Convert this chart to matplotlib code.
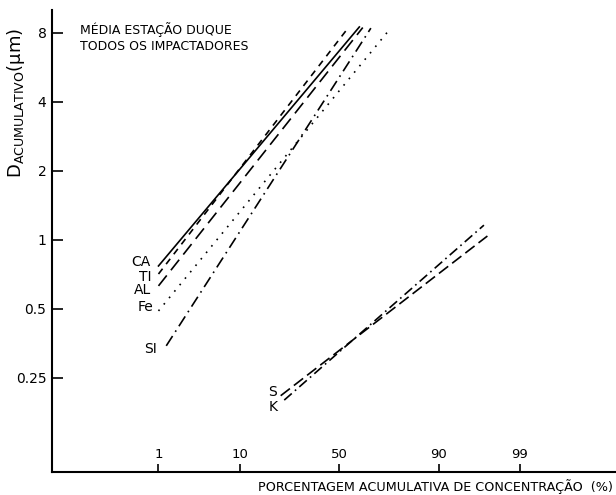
import numpy as np
import matplotlib
matplotlib.use("Agg")
import matplotlib.pyplot as plt
from matplotlib.ticker import FixedLocator, NullLocator, FixedFormatter
from statistics import NormalDist

# ---------------- data ----------------
elements = ["CA", "TI", "AL", "Fe", "SI", "S", "K"]
pct_start = [1.0, 1.0, 1.0, 1.0, 1.3, 22.6, 24.0]      # cumulative %, lower end
pct_end = [60.3, 54.8, 62.0, 74.7, 65.9, 97.2, 96.9]   # cumulative %, upper end
d_start = [0.77, 0.71, 0.63, 0.49, 0.345, 0.209, 0.200]  # diameter (um), lower end
d_end = [8.5, 8.45, 8.45, 8.4, 8.4, 1.04, 1.16]          # diameter (um), upper end

x_ticks = [1, 10, 50, 90, 99]
x_tick_labels = ["1", "10", "50", "90", "99"]
y_ticks = [0.25, 0.5, 1, 2, 4, 8]
y_tick_labels = ["0.25", "0.5", "1", "2", "4", "8"]

# ---------------- styles ----------------
styles = {
    "CA": dict(linestyle="-"),
    "TI": dict(linestyle=(0, (4, 3.5))),
    "AL": dict(linestyle=(0, (8, 4))),
    "Fe": dict(linestyle=(0, (1, 4))),
    "SI": dict(linestyle=(0, (7, 3, 1, 3))),
    "S": dict(linestyle=(0, (7, 3))),
    "K": dict(linestyle=(0, (6, 2.5, 1, 2.5))),
}
label_offsets = {  # points, relative to the lower end of each line
    "CA": (-6, 2.7), "TI": (-5, -2.2), "AL": (-5, -2.9), "Fe": (-4, 2.9),
    "SI": (-6.5, -2.2), "S": (-3, 3), "K": (-5, -5),
}

_nd = NormalDist()


def _probit(v):
    if not np.isfinite(v):
        return np.nan
    return _nd.inv_cdf(min(max(v, 1e-12), 1 - 1e-12))


def _cdf(v):
    if not np.isfinite(v):
        return np.nan
    return _nd.cdf(v)


_vprobit = np.vectorize(_probit, otypes=[float])
_vcdf = np.vectorize(_cdf, otypes=[float])


def fwd(p):
    a = np.asarray(p, dtype=float)
    return _vprobit(a / 100.0)


def inv(z):
    a = np.asarray(z, dtype=float)
    return 100.0 * _vcdf(a)


W, H = 616, 495
fig = plt.figure(figsize=(W / 100, H / 100), dpi=100)
ax = fig.add_axes([52 / W, (H - 472) / H, (W - 52) / W, (472 - 10) / H])

ax.set_xscale("function", functions=(fwd, inv))
ax.set_yscale("log", base=2)
ax.set_xlim(0.01086, 99.982)
ax.set_ylim(0.0971, 10.08)

for name, x0, x1, y0, y1 in zip(elements, pct_start, pct_end, d_start, d_end):
    ax.plot([x0, x1], [y0, y1], color="black", lw=1.2, **styles[name])
    dx, dy = label_offsets[name]
    ax.annotate(name, xy=(x0, y0), xytext=(dx, dy), textcoords="offset points",
                ha="right", va="center", fontsize=10)

for s in ["top", "right"]:
    ax.spines[s].set_visible(False)
for s in ["left", "bottom"]:
    ax.spines[s].set_linewidth(1.5)

ax.xaxis.set_major_locator(FixedLocator(x_ticks))
ax.xaxis.set_major_formatter(FixedFormatter(x_tick_labels))
ax.xaxis.set_minor_locator(NullLocator())
ax.yaxis.set_major_locator(FixedLocator(y_ticks))
ax.yaxis.set_major_formatter(FixedFormatter(y_tick_labels))
ax.yaxis.set_minor_locator(NullLocator())

ax.tick_params(axis="x", direction="in", length=6, width=1.2, labelsize=9.5, pad=-17)
ax.tick_params(axis="y", direction="in", length=8, width=1.2, labelsize=10, pad=4)

ax.set_ylabel(r"$\mathregular{D_{ACUMULATIVO}(\mu m)}$", fontsize=13)
ax.yaxis.set_label_coords(-0.045, 0.80)

narrow = ["Liberation Sans Narrow", "DejaVu Sans"]
fig.text(80 / W, 1 - 22 / H, "MÉDIA ESTAÇÃO DUQUE\nTODOS OS IMPACTADORES",
         ha="left", va="top", fontsize=9, family=narrow, linespacing=1.3)
fig.text(613 / W, 1 - 487 / H, "PORCENTAGEM ACUMULATIVA DE CONCENTRAÇÃO  (%)",
         ha="right", va="center", fontsize=9.2, family=narrow)

fig.savefig("out.png", dpi=100)
